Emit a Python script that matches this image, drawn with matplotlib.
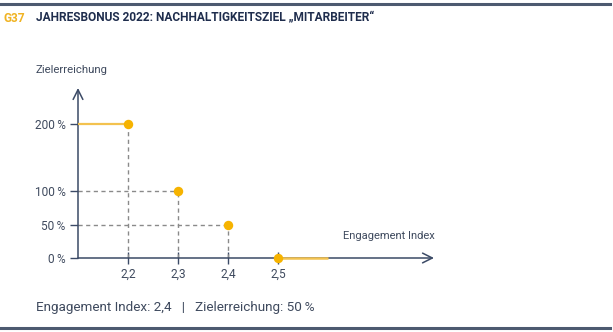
import matplotlib
matplotlib.use("Agg")
import matplotlib.pyplot as plt

# Data
engagement = [2.2, 2.3, 2.4, 2.5]
zielerreichung = [200, 100, 50, 0]
x_ticks = [2.2, 2.3, 2.4, 2.5]
x_ticklabels = ["2,2", "2,3", "2,4", "2,5"]
y_ticks = [0, 50, 100, 200]
y_ticklabels = ["0\u2009%", "50\u2009%", "100\u2009%", "200\u2009%"]
x_start, x_end = 2.1, 2.6
footer_index = "2,4"
footer_ziel = "50\u2009%"

W, H = 613, 332
NAVY = "#3b4a66"
TITLE_NAVY = "#1f2d4d"
ORANGE_LINE = "#f3c24f"
ORANGE_DOT = "#f6b300"
GRAY = "#8a8a8a"
TEXT = "#3f4a5e"

plt.rcParams['font.family'] = ['Roboto', 'DejaVu Sans']

fig = plt.figure(figsize=(W / 100, H / 100), dpi=100)

def fx(px):
    return px / W

def fy(py):
    return 1 - py / H

# frame lines
fig.add_artist(plt.Line2D([fx(0), fx(610)], [fy(4), fy(4)], color="#4d5a70", lw=2.2))
fig.add_artist(plt.Line2D([fx(0), fx(610)], [fy(327.5), fy(327.5)], color="#4d5a70", lw=2.2))

# title
fig.text(fx(4), fy(18), "G37", color="#f0b323", fontsize=8.6, fontweight="bold", va="center", ha="left")
fig.text(fx(36), fy(18), "JAHRESBONUS 2022: NACHHALTIGKEITSZIEL \u201eMITARBEITER\u201c",
         color=TITLE_NAVY, fontsize=8.6, fontweight="bold", va="center", ha="left")

# axes: left px 78 -> 2.1 ; right px 434 -> 2.812 ; bottom py 258 -> 0 ; top py 88 -> 254
x_left_px, x_right_px = 78, 434
y_bot_px, y_top_px = 258, 88
xmax = 2.1 + (x_right_px - x_left_px) / 500.0
ymax = (y_bot_px - y_top_px) / 67.0 * 100
ax = fig.add_axes([fx(x_left_px), fy(y_bot_px), fx(x_right_px - x_left_px), (y_bot_px - y_top_px) / H])
ax.set_xlim(2.1, xmax)
ax.set_ylim(0, ymax)
for s in ax.spines.values():
    s.set_visible(False)
ax.patch.set_alpha(0)

# axis arrows
ax.annotate("", xy=(xmax, 0), xytext=(2.1, 0), xycoords="data",
            arrowprops=dict(arrowstyle="->,head_length=0.7,head_width=0.35", color=NAVY, lw=1.1,
                            shrinkA=0, shrinkB=0), annotation_clip=False)
ax.annotate("", xy=(2.1, ymax), xytext=(2.1, 0), xycoords="data",
            arrowprops=dict(arrowstyle="->,head_length=0.7,head_width=0.35", color=NAVY, lw=1.1,
                            shrinkA=0, shrinkB=0), annotation_clip=False)

# dashed guides
for xv, yv in zip(engagement, zielerreichung):
    if yv > 0:
        ax.plot([xv, xv], [0, yv], ls=(0, (3, 2.5)), color=GRAY, lw=1.0, zorder=2)
    if 0 < yv < max(zielerreichung):
        ax.plot([2.1, xv], [yv, yv], ls=(0, (3, 2.5)), color=GRAY, lw=1.0, zorder=2)

# solid orange segments
ax.plot([x_start, engagement[0]], [zielerreichung[0], zielerreichung[0]], color=ORANGE_LINE, lw=1.6, zorder=3, solid_capstyle="butt")
ax.plot([engagement[-1], x_end], [zielerreichung[-1], zielerreichung[-1]], color=ORANGE_LINE, lw=1.8, zorder=3, solid_capstyle="butt", clip_on=False)

# dots
ax.plot(engagement, zielerreichung, "o", color=ORANGE_DOT, ms=6.8, mec="none", zorder=5, clip_on=False)

# ticks
ax.set_xticks(x_ticks)
ax.set_xticklabels(x_ticklabels)
ax.set_yticks(y_ticks)
ax.set_yticklabels(y_ticklabels)
ax.tick_params(axis="x", direction="inout", length=8, width=1.0, color=NAVY, labelcolor=TEXT, labelsize=8.6, pad=3)
ax.tick_params(axis="y", direction="out", length=6, width=1.0, color=NAVY, labelcolor=TEXT, labelsize=8.6, pad=3)

# axis titles
fig.text(fx(36), fy(70), "Zielerreichung", color=TEXT, fontsize=8.2, va="center", ha="left")
fig.text(fx(435), fy(236), "Engagement Index", color=TEXT, fontsize=8.0, va="center", ha="right")

# footer
fig.text(fx(36), fy(307), f"Engagement Index: {footer_index}   |   Zielerreichung: {footer_ziel}",
         color=TEXT, fontsize=9.7, va="center", ha="left")

fig.savefig("out.png", dpi=100)
